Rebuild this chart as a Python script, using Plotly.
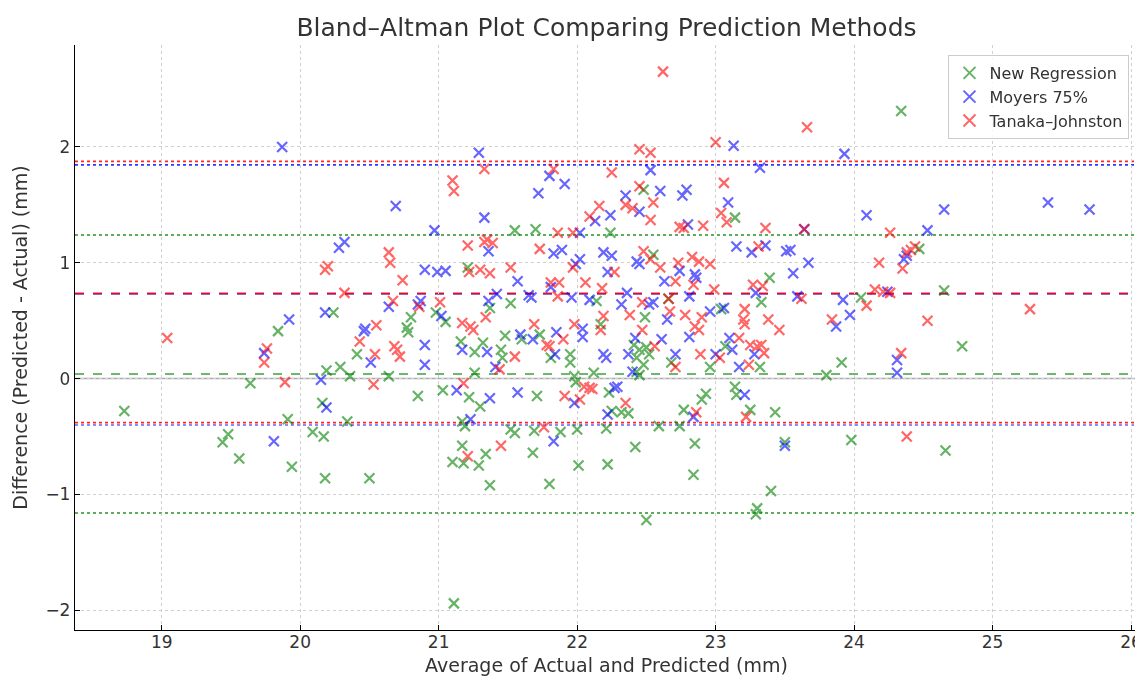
import plotly.graph_objects as go

# ---------------- data ----------------
nr_x = [18.73, 19.44, 19.48, 19.56, 19.64, 19.84, 19.91, 19.94, 20.09, 20.16, 20.17, 20.18, 20.19, 20.24,
        20.29, 20.34, 20.36, 20.41, 20.50, 20.64, 20.77, 20.78, 20.80, 20.85, 20.98, 21.03, 21.05, 21.10,
        21.11, 21.16, 21.17, 21.17, 21.18, 21.19, 21.21, 21.22, 21.26, 21.26, 21.29, 21.30, 21.32, 21.34,
        21.37, 21.37, 21.45, 21.46, 21.48, 21.52, 21.52, 21.55, 21.55, 21.60, 21.68, 21.69, 21.70, 21.71,
        21.73, 21.80, 21.81, 21.88, 21.95, 21.95, 21.98, 21.99, 22.00, 22.01, 22.12, 22.14, 22.17, 22.21,
        22.22, 22.23, 22.24, 22.25, 22.32, 22.37, 22.41, 22.42, 22.43, 22.43, 22.45, 22.45, 22.48, 22.48,
        22.49, 22.50, 22.50, 22.52, 22.55, 22.59, 22.66, 22.68, 22.74, 22.77, 22.84, 22.85, 22.90, 22.93,
        22.96, 23.04, 23.07, 23.14, 23.14, 23.15, 23.25, 23.29, 23.30, 23.32, 23.33, 23.39, 23.40, 23.43,
        23.50, 23.80, 23.91, 23.98, 24.05, 24.34, 24.47, 24.65, 24.66, 24.78]
nr_y = [-0.28, -0.55, -0.48, -0.69, -0.04, 0.41, -0.35, -0.76, -0.46, -0.21, -0.50, -0.86, 0.07, 0.57,
        0.10, -0.37, 0.02, 0.21, -0.86, 0.02, 0.44, 0.40, 0.53, -0.15, 0.57, -0.10, 0.49, -0.72,
        -1.94, 0.32, -0.37, -0.58, -0.73, -0.41, 0.96, -0.16, 0.23, 0.05, -0.75, -0.24, 0.31, -0.65,
        0.61, -0.92, 0.25, 0.18, 0.37, 0.65, -0.44, -0.47, 1.28, 0.34, -0.64, -0.45, 1.29, -0.15,
        0.38, -0.91, 0.18, -0.46, 0.21, 0.14, 0.02, -0.03, -0.44, -0.75, 0.05, 0.67, 0.47, -0.43,
        -0.74, -0.12, 1.26, -0.28, -0.29, -0.30, 0.29, -0.59, 0.18, 0.06, 0.25, 0.03, 1.63, 0.12,
        0.53, 0.27, -1.22, 0.21, 1.07, -0.41, 0.69, 0.14, -0.41, -0.27, -0.83, -0.56, -0.18, -0.13,
        0.10, 0.60, 0.28, 1.39, -0.07, -0.14, -0.27, -1.17, -1.12, 0.10, 0.66, 0.87, -0.97, -0.29,
        -0.55, 0.03, 0.14, -0.53, 0.70, 2.31, 1.12, 0.76, -0.62, 0.28]

my_x = [19.74, 19.81, 19.87, 19.92, 20.15, 20.18, 20.19, 20.28, 20.32, 20.46, 20.47, 20.51, 20.64, 20.69,
        20.85, 20.87, 20.90, 20.90, 20.90, 20.97, 20.99, 21.02, 21.05, 21.13, 21.17, 21.23, 21.29, 21.33,
        21.35, 21.36, 21.36, 21.37, 21.41, 21.42, 21.57, 21.57, 21.59, 21.65, 21.67, 21.68, 21.72, 21.80,
        21.81, 21.83, 21.83, 21.84, 21.85, 21.89, 21.91, 21.96, 21.98, 21.99, 22.02, 22.02, 22.04, 22.04,
        22.09, 22.13, 22.19, 22.19, 22.21, 22.22, 22.22, 22.24, 22.25, 22.27, 22.29, 22.32, 22.35, 22.36,
        22.37, 22.40, 22.42, 22.43, 22.45, 22.45, 22.52, 22.53, 22.55, 22.60, 22.61, 22.63, 22.65, 22.71,
        22.74, 22.76, 22.79, 22.80, 22.81, 22.81, 22.84, 22.85, 22.86, 22.96, 23.00, 23.06, 23.09, 23.10,
        23.12, 23.13, 23.15, 23.17, 23.21, 23.26, 23.28, 23.29, 23.32, 23.36, 23.50, 23.51, 23.54, 23.56,
        23.59, 23.64, 23.67, 23.87, 23.92, 23.93, 23.97, 24.09, 24.24, 24.31, 24.31, 24.36, 24.38, 24.53,
        24.65, 25.40, 25.70]
my_y = [0.22, -0.54, 2.00, 0.51, -0.01, 0.57, -0.25, 1.13, 1.18, 0.41, 0.43, 0.14, 0.62, 1.49,
        0.64, 0.67, 0.94, 0.29, 0.12, 1.28, 0.92, 0.54, 0.93, -0.10, 0.25, -0.35, 1.95, 1.39,
        0.23, 1.10, 0.67, -0.17, 0.10, 0.73, 0.84, -0.12, 0.38, 0.72, 0.70, 0.34, 1.60, 1.75,
        0.79, 1.08, -0.54, 0.21, 0.40, 1.11, 1.68, 0.70, -0.21, 0.99, 1.26, 1.03, 0.43, 0.36,
        0.68, 1.36, 1.09, 0.21, 0.18, 0.92, -0.31, 1.41, 1.06, -0.08, -0.07, 0.64, 1.58, 0.74,
        0.21, 0.06, 0.35, 1.01, 1.44, 0.99, 0.64, 1.80, 0.66, 1.62, 0.34, 0.84, 0.51, 0.21,
        0.93, 1.58, 1.63, 1.33, 0.71, 0.36, -0.33, 0.90, 0.87, 0.58, 0.21, 0.61, 1.52, 0.35,
        0.25, 2.01, 1.14, 0.10, -0.14, 1.09, 0.21, 0.74, 1.82, 1.15, -0.58, 1.10, 1.11, 0.91,
        0.71, 1.29, 1.00, 0.45, 0.68, 1.94, 0.55, 1.41, 0.75, 0.16, 0.05, 1.03, 1.06, 1.28,
        1.46, 1.52, 1.46]

tj_x = [19.04, 19.74, 19.76, 19.89, 20.18, 20.20, 20.32, 20.43, 20.53, 20.54, 20.55, 20.64, 20.65, 20.67,
        20.68, 20.70, 20.72, 20.74, 20.86, 21.01, 21.10, 21.11, 21.17, 21.18, 21.21, 21.21, 21.22, 21.23,
        21.25, 21.30, 21.33, 21.33, 21.34, 21.35, 21.37, 21.39, 21.44, 21.45, 21.52, 21.55, 21.69, 21.73,
        21.76, 21.78, 21.80, 21.81, 21.83, 21.86, 21.86, 21.87, 21.90, 21.91, 21.97, 21.97, 21.98, 22.02,
        22.05, 22.06, 22.09, 22.09, 22.11, 22.16, 22.17, 22.18, 22.19, 22.25, 22.27, 22.35, 22.35, 22.38,
        22.40, 22.45, 22.45, 22.47, 22.47, 22.48, 22.53, 22.53, 22.53, 22.55, 22.56, 22.60, 22.62, 22.66,
        22.67, 22.71, 22.71, 22.73, 22.74, 22.77, 22.78, 22.83, 22.84, 22.85, 22.86, 22.88, 22.88, 22.89,
        22.90, 22.91, 22.96, 22.99, 23.00, 23.03, 23.04, 23.06, 23.08, 23.17, 23.20, 23.21, 23.21, 23.22,
        23.24, 23.25, 23.27, 23.30, 23.31, 23.33, 23.34, 23.35, 23.36, 23.38, 23.46, 23.62, 23.64, 23.66,
        23.84, 24.09, 24.15, 24.18, 24.21, 24.26, 24.26, 24.34, 24.35, 24.38, 24.38, 24.41, 24.44, 24.53,
        25.27]
tj_y = [0.35, 0.14, 0.26, -0.03, 0.94, 0.97, 0.74, 0.32, -0.05, 0.21, 0.46, 1.09, 1.00, 0.67,
        0.28, 0.25, 0.19, 0.85, 0.62, 0.66, 1.71, 1.62, 0.48, -0.04, 1.15, -0.67, 0.92, 0.45,
        0.42, 0.94, 1.81, 1.18, 0.53, 1.20, 0.91, 1.17, 0.08, -0.58, 0.96, 0.19, 0.47, 1.12,
        -0.42, 0.29, 0.28, 0.83, 1.81, 1.26, 0.71, 0.83, 0.34, -0.15, 1.26, 0.96, 0.47, -0.18,
        -0.07, 0.83, 1.40, -0.08, -0.09, 1.49, 0.42, 0.78, 0.54, 1.78, 0.92, 1.50, -0.21, 0.55,
        1.47, 1.98, 1.66, 0.66, 0.42, 1.10, 1.95, 1.37, 1.03, 1.52, 0.28, 0.96, 2.65, 0.69,
        0.58, 0.84, 0.10, 1.00, 1.31, 1.30, 0.55, 1.05, 0.81, 0.45, -0.29, 1.01, 0.42, 0.21,
        0.53, 1.32, 0.99, 0.77, 2.04, 0.18, 1.43, 1.69, 1.35, 0.35, 0.51, 0.60, 0.47, -0.33,
        0.12, 0.29, 0.81, 0.28, 1.14, 0.29, 0.80, 0.22, 1.30, 0.51, 0.42, 0.69, 1.29, 2.17,
        0.51, 0.63, 0.77, 1.00, 0.75, 1.26, 0.74, 0.22, 0.95, 1.09, -0.50, 1.11, 1.14, 0.50,
        0.60]

series_names = ["New Regression", "Moyers 75%", "Tanaka–Johnston"]
series_colors = ["green", "blue", "red"]

# mean difference and limits of agreement (mean, upper, lower)
nr_lines = [0.04, 1.24, -1.16]
my_lines = [0.73, 1.845, -0.40]
tj_lines = [0.735, 1.875, -0.38]

x_ticks = [19, 20, 21, 22, 23, 24, 25, 26]
y_ticks = [-2, -1, 0, 1, 2]

# ---------------- figure ----------------
fig = go.Figure()
for name, color, xs, ys in zip(series_names, series_colors,
                                [nr_x, my_x, tj_x], [nr_y, my_y, tj_y]):
    fig.add_trace(go.Scatter(
        x=xs, y=ys, mode="markers", name=name, opacity=0.6,
        marker=dict(symbol="x-thin", size=10, color=color,
                    line=dict(width=2.2, color=color)),
    ))

shapes = []
def hline(y, color, dash, width=1.4, opacity=1.0):
    shapes.append(dict(type="line", xref="paper", x0=0, x1=1, yref="y", y0=y, y1=y,
                       line=dict(color=color, dash=dash, width=width), opacity=opacity,
                       layer="below"))

hline(0, "#aaaaaa", "solid", 1.5)
# green lines
hline(nr_lines[0], "green", "dash", 1.6, 0.75)
hline(nr_lines[1], "green", "dot", 1.6, 0.85)
hline(nr_lines[2], "green", "dot", 1.6, 0.85)
# red lines, then blue lines on top (the mean lines overlap and mix to purple)
hline(tj_lines[0], "red", "dash", 1.8, 0.9)
hline(tj_lines[1], "red", "dot", 1.6, 0.85)
hline(tj_lines[2], "red", "dot", 1.6, 0.85)
hline(my_lines[0], "blue", "dash", 1.8, 0.3)
hline(my_lines[1], "blue", "dot", 1.6, 0.8)
hline(my_lines[2], "blue", "dot", 1.6, 0.6)

# page body has an 8px margin: size/margins chosen so the axes land where the reference has them
fig.update_layout(
    width=1135, height=671,
    margin=dict(l=67, r=5, t=37, b=49, autoexpand=False),
    paper_bgcolor="white", plot_bgcolor="white",
    font=dict(family="DejaVu Sans", color="#333333", size=17),
    title=dict(text="Bland–Altman Plot Comparing Prediction Methods",
               xref="paper", x=0.5, xanchor="center",
               yref="container", y=0.972, yanchor="middle",
               font=dict(size=25, color="#333333")),
    shapes=shapes,
    showlegend=True,
    legend=dict(x=0.992, y=0.983, xanchor="right", yanchor="top",
                bgcolor="rgba(255,255,255,0.85)", bordercolor="#cccccc", borderwidth=1,
                font=dict(size=16, color="#333333"), itemsizing="constant",
                tracegroupgap=2),
)
fig.update_xaxes(
    range=[18.374, 26.05], tickvals=x_ticks, automargin=False,
    showgrid=True, gridcolor="#d0d0d0", griddash="3px,3px", gridwidth=1,
    showline=True, linecolor="black", linewidth=1.3, mirror=False,
    ticks="inside", ticklen=5, tickcolor="black", zeroline=False,
    tickfont=dict(size=17), ticklabelstandoff=-4,
    title=dict(text="Average of Actual and Predicted (mm)", font=dict(size=19), standoff=8),
)
fig.update_yaxes(
    range=[-2.17, 2.88], tickvals=y_ticks, automargin=False,
    showgrid=True, gridcolor="#d0d0d0", griddash="3px,3px", gridwidth=1,
    showline=True, linecolor="black", linewidth=1.3, mirror=False,
    ticks="inside", ticklen=5, tickcolor="black", zeroline=False,
    tickfont=dict(size=17),
    title=dict(text="Difference (Predicted - Actual) (mm)", font=dict(size=19), standoff=12),
)

fig.write_html("out.html")
